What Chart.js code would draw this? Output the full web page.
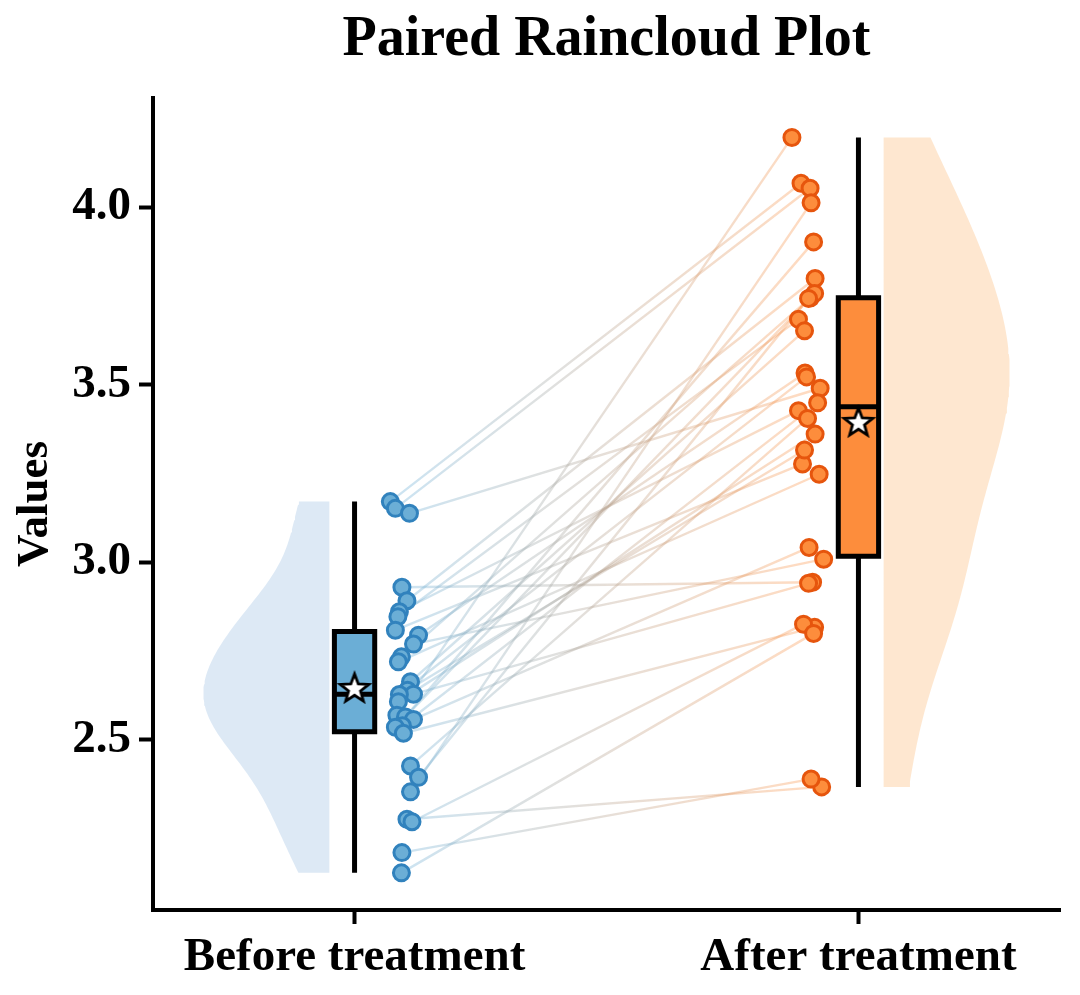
<!DOCTYPE html>
<html><head><meta charset="utf-8">
<script src="https://cdn.jsdelivr.net/npm/chart.js@4.4.0/dist/chart.umd.min.js"></script>
<style>html,body{margin:0;padding:0;background:#fff}#wrap{width:1080px;height:995px;position:relative}</style>
</head><body><div id="wrap"><canvas id="c"></canvas></div>
<script>
const categories = ['Before treatment', 'After treatment'];
const beforeValues = [3.171, 3.152, 3.138, 2.930, 2.892, 2.861, 2.847, 2.809, 2.795, 2.770, 2.734, 2.720, 2.664, 2.640, 2.629, 2.628, 2.608, 2.570, 2.565, 2.558, 2.540, 2.536, 2.519, 2.427, 2.395, 2.354, 2.277, 2.270, 2.183, 2.126];
const afterValues = [4.067, 4.053, 3.490, 2.944, 3.799, 3.427, 3.684, 3.277, 3.533, 3.009, 3.745, 3.248, 3.652, 3.316, 2.941, 3.522, 3.361, 4.196, 3.902, 3.042, 3.449, 3.757, 2.817, 3.405, 3.743, 4.012, 2.368, 2.826, 2.390, 2.800];
const beforeJitter = [0.071, 0.081, 0.109, 0.094, 0.104, 0.089, 0.086, 0.081, 0.127, 0.117, 0.093, 0.087, 0.111, 0.105, 0.117, 0.089, 0.087, 0.084, 0.101, 0.117, 0.095, 0.081, 0.097, 0.111, 0.127, 0.111, 0.104, 0.114, 0.094, 0.093];
const afterJitter = [-0.114, -0.096, -0.076, -0.091, -0.086, -0.119, -0.119, -0.111, -0.106, -0.069, -0.095, -0.078, -0.107, -0.107, -0.099, -0.103, -0.086, -0.132, -0.089, -0.098, -0.081, -0.087, -0.087, -0.101, -0.099, -0.094, -0.073, -0.109, -0.094, -0.089];
const yTicks = [2.5, 3.0, 3.5, 4.0];

const FONT = "'Liberation Serif', 'Times New Roman', serif";
const BLUE_FILL = '#6baed6', BLUE_EDGE = '#3182bd', BLUE_VIOLIN = 'rgba(198,219,239,0.6)';
const ORANGE_FILL = '#fd8d3c', ORANGE_EDGE = '#e6550d', ORANGE_VIOLIN = 'rgba(253,208,162,0.5)';

function quantile(arr, q) {
  const s = [...arr].sort((a, b) => a - b);
  const pos = (s.length - 1) * q, lo = Math.floor(pos), hi = Math.ceil(pos);
  return s[lo] + (s[hi] - s[lo]) * (pos - lo);
}
function boxStats(v) {
  const q1 = quantile(v, 0.25), med = quantile(v, 0.5), q3 = quantile(v, 0.75), iqr = q3 - q1;
  const lo = Math.min(...v.filter(x => x >= q1 - 1.5 * iqr));
  const hi = Math.max(...v.filter(x => x <= q3 + 1.5 * iqr));
  const mean = v.reduce((a, b) => a + b, 0) / v.length;
  return { q1, med, q3, lo, hi, mean };
}
function violinPoints(values, center, side) {
  const n = values.length, mean = values.reduce((a, b) => a + b, 0) / n;
  const sd = Math.sqrt(values.reduce((s, v) => s + (v - mean) ** 2, 0) / (n - 1));
  const bw = sd * Math.pow(n, -0.2);
  const lo = Math.min(...values), hi = Math.max(...values), N = 120;
  const grid = [], dens = [];
  for (let i = 0; i <= N; i++) {
    const y = lo + (hi - lo) * i / N;
    grid.push(y);
    dens.push(values.reduce((s, v) => s + Math.exp(-0.5 * ((y - v) / bw) ** 2), 0));
  }
  const maxD = Math.max(...dens);
  const edge = center + side * 0.05, w = 0.25;
  const pts = [{ x: edge, y: lo }];
  grid.forEach((y, i) => pts.push({ x: edge + side * w * dens[i] / maxD, y }));
  pts.push({ x: edge, y: hi });
  pts.push({ x: edge, y: lo });
  return pts;
}
function makeStar(r, bw) {
  const s = Math.ceil(2 * (r + bw)) + 2;
  const cv = document.createElement('canvas');
  cv.width = cv.height = s;
  const g = cv.getContext('2d');
  g.translate(s / 2, s / 2);
  g.beginPath();
  for (let i = 0; i < 10; i++) {
    const rr = i % 2 ? r * 0.42 : r, a = -Math.PI / 2 + i * Math.PI / 5;
    g.lineTo(rr * Math.cos(a), rr * Math.sin(a));
  }
  g.closePath();
  g.fillStyle = '#fff'; g.fill();
  g.lineWidth = bw; g.strokeStyle = '#000'; g.lineJoin = 'miter'; g.stroke();
  return cv;
}
const star = makeStar(15, 2.8);

function pairGradient(ctx) {
  const chart = ctx.chart;
  if (!chart.chartArea) return 'rgba(160,160,160,0.3)';
  const xs = chart.scales.x;
  const g = chart.ctx.createLinearGradient(xs.getPixelForValue(0.1), 0, xs.getPixelForValue(0.9), 0);
  g.addColorStop(0, 'rgba(107,174,214,0.34)');
  g.addColorStop(1, 'rgba(253,141,60,0.32)');
  return g;
}

const line = (data, extra) => Object.assign({ data, showLine: true, pointRadius: 0, pointHoverRadius: 0, pointHitRadius: 0, borderColor: '#000', borderWidth: 5, fill: false }, extra);

function boxDatasets(st, c, fillColor) {
  const hw = 0.04;
  const rect = [{ x: c - hw, y: st.q1 }, { x: c + hw, y: st.q1 }, { x: c + hw, y: st.q3 }, { x: c - hw, y: st.q3 }, { x: c - hw, y: st.q1 }, { x: c + hw, y: st.q1 }];
  return [
    line([{ x: c, y: st.q3 }, { x: c, y: st.hi }], { order: 4 }),
    line([{ x: c, y: st.q1 }, { x: c, y: st.lo }], { order: 4 }),
    line(rect, { order: 3, fill: 'shape', backgroundColor: fillColor, borderJoinStyle: 'miter' }),
    line([{ x: c - hw, y: st.med }, { x: c + hw, y: st.med }], { order: 2 })
  ];
}

const sB = boxStats(beforeValues), sA = boxStats(afterValues);
const datasets = [];
datasets.push(line(violinPoints(beforeValues, 0, -1), { order: 7, borderWidth: 0, borderColor: 'rgba(0,0,0,0)', fill: 'shape', backgroundColor: BLUE_VIOLIN }));
datasets.push(line(violinPoints(afterValues, 1, 1), { order: 7, borderWidth: 0, borderColor: 'rgba(0,0,0,0)', fill: 'shape', backgroundColor: ORANGE_VIOLIN }));
beforeValues.forEach((v, i) => {
  datasets.push(line([{ x: 0 + beforeJitter[i], y: v }, { x: 1 + afterJitter[i], y: afterValues[i] }], { order: 6, borderWidth: 2.4, borderColor: pairGradient }));
});
datasets.push(...boxDatasets(sB, 0, BLUE_FILL));
datasets.push(...boxDatasets(sA, 1, ORANGE_FILL));
datasets.push({ data: beforeValues.map((v, i) => ({ x: 0 + beforeJitter[i], y: v })), order: 1, pointRadius: 8, pointBorderWidth: 3, pointBackgroundColor: BLUE_FILL, pointBorderColor: BLUE_EDGE, showLine: false });
datasets.push({ data: afterValues.map((v, i) => ({ x: 1 + afterJitter[i], y: v })), order: 1, pointRadius: 8, pointBorderWidth: 3, pointBackgroundColor: ORANGE_FILL, pointBorderColor: ORANGE_EDGE, showLine: false });
datasets.push({ data: [{ x: 0, y: sB.mean }, { x: 1, y: sA.mean }], order: 0, pointStyle: star, pointRadius: 16, showLine: false });

new Chart(document.getElementById('c'), {
  type: 'scatter',
  data: { datasets },
  options: {
    responsive: true, maintainAspectRatio: false, animation: false,
    layout: { padding: { left: 0, right: 20, top: 0, bottom: 0 } },
    plugins: {
      legend: { display: false }, tooltip: { enabled: false },
      title: { display: true, text: 'Paired Raincloud Plot', color: '#000', fullSize: false,
        font: { family: FONT, size: 56, weight: 'bold', lineHeight: 1.2 }, padding: { top: 7, bottom: 23.8 } }
    },
    scales: {
      x: {
        type: 'linear', min: -0.4, max: 1.4,
        afterBuildTicks: s => { s.ticks = categories.map((_, i) => ({ value: i })); },
        afterFit: s => { s.height = 85; },
        ticks: { callback: v => categories[v], color: '#000', padding: 6, maxRotation: 0, autoSkip: false,
          font: { family: FONT, size: 47, weight: 'bold' } },
        grid: { display: true, drawOnChartArea: false, drawTicks: true, tickLength: 14, tickWidth: 4, tickColor: '#000' },
        border: { display: true, color: '#000', width: 4 }
      },
      y: {
        type: 'linear', min: 2.0215, max: 4.307,
        afterBuildTicks: s => { s.ticks = yTicks.map(v => ({ value: v })); },
        afterFit: s => { s.width = 153; },
        ticks: { callback: v => Number(v).toFixed(1), color: '#000', padding: 8,
          font: { family: FONT, size: 47, weight: 'bold' } },
        grid: { display: true, drawOnChartArea: false, drawTicks: true, tickLength: 14, tickWidth: 4, tickColor: '#000' },
        border: { display: true, color: '#000', width: 4 },
        title: { display: true, text: 'Values', color: '#000', padding: { top: 8, bottom: 0 },
          font: { family: FONT, size: 45, weight: 'bold', lineHeight: 1.2 } }
      }
    }
  }
});
</script></body></html>
